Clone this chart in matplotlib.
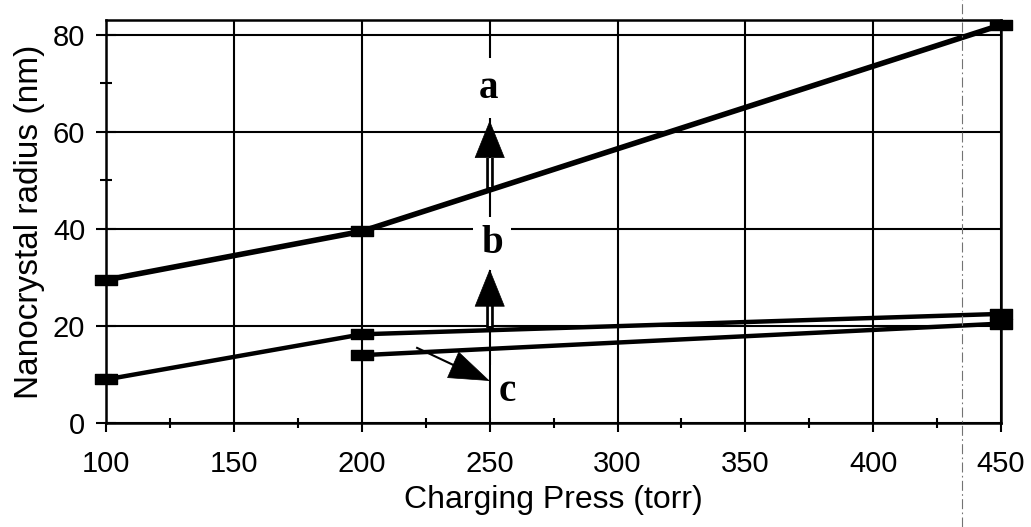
import numpy as np
import matplotlib
matplotlib.use("Agg")
import matplotlib.pyplot as plt
from matplotlib.path import Path
from matplotlib.lines import Line2D
from matplotlib.ticker import MultipleLocator

# data
press_a = [100, 200, 450]
radius_a = [29.5, 39.5, 82]
press_b = [100, 200, 450]
radius_b = [9, 18.3, 22.5]
press_c = [200, 450]
radius_c = [14, 20.5]

xticks = [100, 150, 200, 250, 300, 350, 400, 450]
yticks = [0, 20, 40, 60, 80]

plt.rcParams['font.family'] = ['Liberation Sans', 'DejaVu Sans']

fig = plt.figure(figsize=(10.31, 5.27), dpi=100)
ax = fig.add_axes([0.103, 0.197, 0.868, 0.765])

# flat rectangular marker, like the original
rect = Path([(-1, -0.45), (1, -0.45), (1, 0.45), (-1, 0.45), (-1, -0.45)],
            [Path.MOVETO, Path.LINETO, Path.LINETO, Path.LINETO, Path.CLOSEPOLY])

ax.plot(press_a, radius_a, color='black', lw=4, marker=rect, ms=16, zorder=3, clip_on=False)
ax.plot(press_b, radius_b, color='black', lw=3.2, marker=rect, ms=16, zorder=3, clip_on=False)
ax.plot(press_c, radius_c, color='black', lw=3.2, marker=rect, ms=16, zorder=3, clip_on=False)

ax.set_xlim(100, 450)
ax.set_ylim(0, 83)
ax.set_xticks(xticks)
ax.set_yticks(yticks)
ax.xaxis.set_minor_locator(MultipleLocator(25))
ax.yaxis.set_minor_locator(MultipleLocator(10))
ax.grid(True, which='major', color='black', lw=1.5, zorder=1)
ax.set_axisbelow(True)
for s in ax.spines.values():
    s.set_linewidth(1.8)

ax.tick_params(axis='y', which='major', direction='inout', length=14, width=1.5,
               labelsize=21, pad=8)
ax.tick_params(axis='y', which='minor', direction='inout', length=8, width=1.5)
ax.tick_params(axis='x', which='major', direction='out', length=6.5, width=1.5,
               labelsize=21, pad=13)
ax.tick_params(axis='x', which='minor', direction='inout', length=7, width=1.5)

ax.set_xlabel('Charging Press (torr)', fontsize=23, labelpad=5)
ax.set_ylabel('Nanocrystal radius (nm)', fontsize=24, labelpad=6)

# labels a, b, c with white boxes that break the grid
lab_font = dict(family=['Liberation Serif', 'DejaVu Serif'], fontweight='bold',
                fontsize=28, ha='center', va='center', zorder=4)
ax.text(249.5, 69, 'a', bbox=dict(fc='white', ec='none', pad=8), **lab_font)
ax.text(251, 37, 'b', bbox=dict(fc='white', ec='none', pad=6), **lab_font)
ax.text(257, 6.5, 'c', bbox=dict(fc='white', ec='none', pad=6), **lab_font)


def hollow_arrow(x, tail, base, tip):
    # double-line shaft with a filled head
    ax.plot([x, x], [tail, base], color='black', lw=5.5, solid_capstyle='butt', zorder=5)
    ax.plot([x, x], [tail + 0.6, base], color='white', lw=1.6, solid_capstyle='butt', zorder=5)
    ax.annotate('', xy=(x, tip), xytext=(x, base),
                arrowprops=dict(arrowstyle='-|>,head_length=26,head_width=10.5',
                                mutation_scale=1, lw=0.5, color='black',
                                shrinkA=0, shrinkB=0), zorder=6)


hollow_arrow(250, 48, 54.6, 62.3)
hollow_arrow(250, 19.5, 24.7, 31.7)

# arrow c: thin shaft, filled head
ax.plot([221.6, 235.7], [15.5, 12.0], color='black', lw=1.5, zorder=5)
ax.annotate('', xy=(250, 8.7), xytext=(235.7, 12.0),
            arrowprops=dict(arrowstyle='-|>,head_length=28,head_width=10',
                            mutation_scale=1, lw=0.5, color='black',
                            shrinkA=0, shrinkB=0), zorder=6)

# scanner artifact: faint dash-dot line through the whole page
fig.add_artist(Line2D([962 / 1031, 962 / 1031], [0, 1], transform=fig.transFigure,
                      color='0.45', lw=0.8, linestyle=(0, (9, 3, 1.5, 3))))

fig.savefig('out.png', dpi=100)
